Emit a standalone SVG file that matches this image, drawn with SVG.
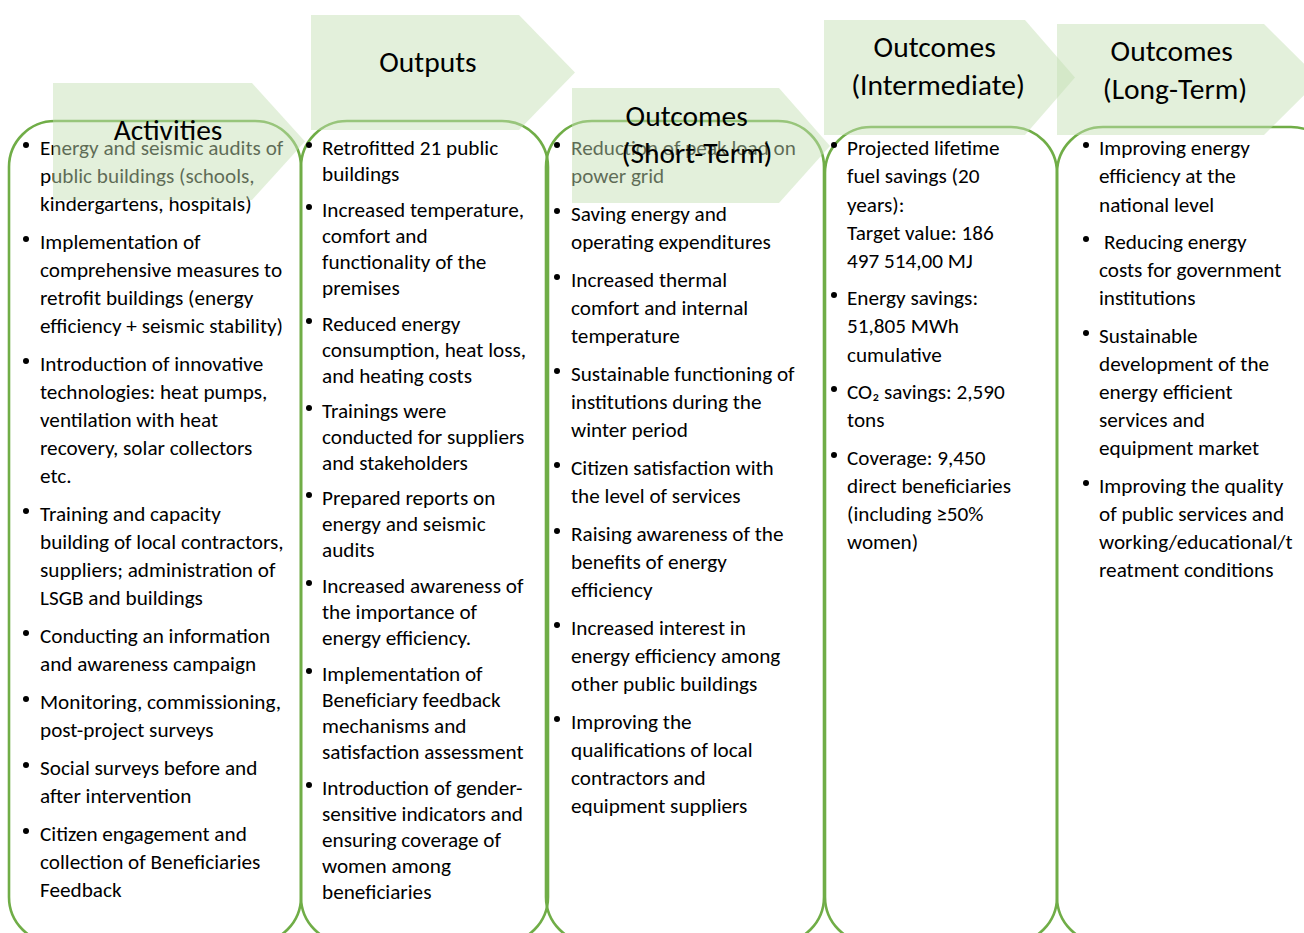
<svg xmlns="http://www.w3.org/2000/svg" width="1304" height="933" viewBox="0 0 1304 933">
  <style>
    .box { fill: none; stroke: #70ad47; stroke-width: 2.6; }
    .chev { fill: #c5e0b4; fill-opacity: 0.48; }
    .body { font-family: Carlito, Lato, "Liberation Sans", sans-serif; font-size: 21.2px; fill: #000; }
    .title { font-family: Carlito, Lato, "Liberation Sans", sans-serif; font-size: 29.5px; fill: #000; text-anchor: middle; }
    .dot circle { fill: #000; r: 3px; }
  </style>
  <rect width="1304" height="933" fill="#fff"/>

  <!-- Activities -->
  <g id="activities">
    <rect class="box" x="9" y="121" width="292" height="822" rx="46" ry="46"/>
    <g class="dot">
      <circle cx="26" cy="145" r="3"/><circle cx="26" cy="239" r="3"/><circle cx="26" cy="361" r="3"/>
      <circle cx="26" cy="511" r="3"/><circle cx="26" cy="633" r="3"/><circle cx="26" cy="699" r="3"/>
      <circle cx="26" cy="765" r="3"/><circle cx="26" cy="831" r="3"/>
    </g>
    <text class="body">
      <tspan x="40" y="155">Energy and seismic audits of</tspan>
      <tspan x="40" y="183">public buildings (schools,</tspan>
      <tspan x="40" y="211">kindergartens, hospitals)</tspan>
      <tspan x="40" y="249">Implementation of</tspan>
      <tspan x="40" y="277">comprehensive measures to</tspan>
      <tspan x="40" y="305">retrofit buildings  (energy</tspan>
      <tspan x="40" y="333">efficiency + seismic stability)</tspan>
      <tspan x="40" y="371">Introduction of innovative</tspan>
      <tspan x="40" y="399">technologies: heat pumps,</tspan>
      <tspan x="40" y="427">ventilation with heat</tspan>
      <tspan x="40" y="455">recovery, solar collectors</tspan>
      <tspan x="40" y="483">etc.</tspan>
      <tspan x="40" y="521">Training and capacity</tspan>
      <tspan x="40" y="549">building of local contractors,</tspan>
      <tspan x="40" y="577">suppliers; administration of</tspan>
      <tspan x="40" y="605">LSGB and buildings</tspan>
      <tspan x="40" y="643">Conducting an information</tspan>
      <tspan x="40" y="671">and awareness campaign</tspan>
      <tspan x="40" y="709">Monitoring, commissioning,</tspan>
      <tspan x="40" y="737">post-project surveys</tspan>
      <tspan x="40" y="775">Social surveys before and</tspan>
      <tspan x="40" y="803">after intervention</tspan>
      <tspan x="40" y="841">Citizen engagement and</tspan>
      <tspan x="40" y="869">collection of Beneficiaries</tspan>
      <tspan x="40" y="897">Feedback</tspan>
    </text>
    <polygon class="chev" points="53,83 252,83 305,141.5 252,200 53,200"/>
    <text class="title" x="168" y="140">Activities</text>
  </g>

  <!-- Outputs -->
  <g id="outputs">
    <rect class="box" x="301" y="121" width="247" height="822" rx="46" ry="46"/>
    <g class="dot">
      <circle cx="309" cy="145" r="3"/><circle cx="309" cy="207" r="3"/><circle cx="309" cy="321" r="3"/>
      <circle cx="309" cy="408" r="3"/><circle cx="309" cy="495" r="3"/><circle cx="309" cy="583" r="3"/>
      <circle cx="309" cy="671" r="3"/><circle cx="309" cy="785" r="3"/>
    </g>
    <text class="body">
      <tspan x="322" y="155">Retrofitted 21 public</tspan>
      <tspan x="322" y="181">buildings</tspan>
      <tspan x="322" y="217">Increased temperature,</tspan>
      <tspan x="322" y="243">comfort and</tspan>
      <tspan x="322" y="269">functionality of the</tspan>
      <tspan x="322" y="295">premises</tspan>
      <tspan x="322" y="331">Reduced energy</tspan>
      <tspan x="322" y="357">consumption, heat loss,</tspan>
      <tspan x="322" y="383">and heating costs</tspan>
      <tspan x="322" y="418">Trainings were</tspan>
      <tspan x="322" y="444">conducted for suppliers</tspan>
      <tspan x="322" y="470">and stakeholders</tspan>
      <tspan x="322" y="505">Prepared reports on</tspan>
      <tspan x="322" y="531">energy and seismic</tspan>
      <tspan x="322" y="557">audits</tspan>
      <tspan x="322" y="593">Increased awareness of</tspan>
      <tspan x="322" y="619">the importance of</tspan>
      <tspan x="322" y="645">energy efficiency.</tspan>
      <tspan x="322" y="681">Implementation of</tspan>
      <tspan x="322" y="707">Beneficiary feedback</tspan>
      <tspan x="322" y="733">mechanisms and</tspan>
      <tspan x="322" y="759">satisfaction assessment</tspan>
      <tspan x="322" y="795">Introduction of gender-</tspan>
      <tspan x="322" y="821">sensitive indicators and</tspan>
      <tspan x="322" y="847">ensuring coverage of</tspan>
      <tspan x="322" y="873">women among</tspan>
      <tspan x="322" y="899">beneficiaries</tspan>
    </text>
    <polygon class="chev" points="311,15 519,15 575,72.5 519,130 311,130"/>
    <text class="title" x="428" y="72">Outputs</text>
  </g>

  <!-- Outcomes (Short-Term) -->
  <g id="outcomes-short">
    <rect class="box" x="546" y="121" width="278" height="822" rx="46" ry="46"/>
    <g class="dot">
      <circle cx="557" cy="145" r="3"/><circle cx="557" cy="211" r="3"/><circle cx="557" cy="277" r="3"/>
      <circle cx="557" cy="371" r="3"/><circle cx="557" cy="465" r="3"/><circle cx="557" cy="531" r="3"/>
      <circle cx="557" cy="625" r="3"/><circle cx="557" cy="719" r="3"/>
    </g>
    <text class="body">
      <tspan x="571" y="155">Reduction of peak load on</tspan>
      <tspan x="571" y="183">power grid</tspan>
      <tspan x="571" y="221">Saving energy and</tspan>
      <tspan x="571" y="249">operating expenditures</tspan>
      <tspan x="571" y="287">Increased thermal</tspan>
      <tspan x="571" y="315">comfort and internal</tspan>
      <tspan x="571" y="343">temperature</tspan>
      <tspan x="571" y="381">Sustainable functioning of</tspan>
      <tspan x="571" y="409">institutions during the</tspan>
      <tspan x="571" y="437">winter period</tspan>
      <tspan x="571" y="475">Citizen satisfaction with</tspan>
      <tspan x="571" y="503">the level of services</tspan>
      <tspan x="571" y="541">Raising awareness of the</tspan>
      <tspan x="571" y="569">benefits of energy</tspan>
      <tspan x="571" y="597">efficiency</tspan>
      <tspan x="571" y="635">Increased interest in</tspan>
      <tspan x="571" y="663">energy efficiency among</tspan>
      <tspan x="571" y="691">other public buildings</tspan>
      <tspan x="571" y="729">Improving the</tspan>
      <tspan x="571" y="757">qualifications of local</tspan>
      <tspan x="571" y="785">contractors and</tspan>
      <tspan x="571" y="813">equipment suppliers</tspan>
    </text>
    <polygon class="chev" points="572,88 779,88 830,146 779,203 572,203"/>
    <text class="title">
      <tspan x="690" y="126">Outcomes</tspan>
      <tspan x="697" y="163">(Short-Term)</tspan>
    </text>
  </g>

  <!-- Outcomes (Intermediate) -->
  <g id="outcomes-intermediate">
    <rect class="box" x="825" y="127" width="232" height="816" rx="46" ry="46"/>
    <g class="dot">
      <circle cx="834" cy="145" r="3"/><circle cx="834" cy="295" r="3"/>
      <circle cx="834" cy="389" r="3"/><circle cx="834" cy="455" r="3"/>
    </g>
    <text class="body">
      <tspan x="847" y="155">Projected lifetime</tspan>
      <tspan x="847" y="183">fuel savings (20</tspan>
      <tspan x="847" y="212">years):</tspan>
      <tspan x="847" y="240">Target value: 186</tspan>
      <tspan x="847" y="268">497 514,00 MJ</tspan>
      <tspan x="847" y="305">Energy savings:</tspan>
      <tspan x="847" y="333">51,805 MWh</tspan>
      <tspan x="847" y="362">cumulative</tspan>
      <tspan x="847" y="399">CO₂ savings: 2,590</tspan>
      <tspan x="847" y="427">tons</tspan>
      <tspan x="847" y="465">Coverage: 9,450</tspan>
      <tspan x="847" y="493">direct beneficiaries</tspan>
      <tspan x="847" y="521">(including ≥50%</tspan>
      <tspan x="847" y="549">women)</tspan>
    </text>
    <polygon class="chev" points="824,20 1025,20 1075,77.5 1025,135 824,135"/>
    <text class="title">
      <tspan x="938" y="57">Outcomes</tspan>
      <tspan x="938" y="95">(Intermediate)</tspan>
    </text>
  </g>

  <!-- Outcomes (Long-Term) -->
  <g id="outcomes-long">
    <rect class="box" x="1057" y="127" width="280" height="816" rx="46" ry="46"/>
    <g class="dot">
      <circle cx="1086" cy="145" r="3"/><circle cx="1086" cy="239" r="3"/>
      <circle cx="1086" cy="333" r="3"/><circle cx="1086" cy="483" r="3"/>
    </g>
    <text class="body">
      <tspan x="1099" y="155">Improving energy</tspan>
      <tspan x="1099" y="183">efficiency at the</tspan>
      <tspan x="1099" y="212">national level</tspan>
      <tspan x="1104" y="249">Reducing energy</tspan>
      <tspan x="1099" y="277">costs for government</tspan>
      <tspan x="1099" y="305">institutions</tspan>
      <tspan x="1099" y="343">Sustainable</tspan>
      <tspan x="1099" y="371">development of the</tspan>
      <tspan x="1099" y="399">energy efficient</tspan>
      <tspan x="1099" y="427">services and</tspan>
      <tspan x="1099" y="455">equipment market</tspan>
      <tspan x="1099" y="493">Improving the quality</tspan>
      <tspan x="1099" y="521">of public services and</tspan>
      <tspan x="1099" y="549">working/educational/t</tspan>
      <tspan x="1099" y="577">reatment conditions</tspan>
    </text>
    <polygon class="chev" points="1057,24 1264,24 1320,79.5 1264,135 1057,135"/>
    <text class="title">
      <tspan x="1175" y="61">Outcomes</tspan>
      <tspan x="1175" y="99">(Long-Term)</tspan>
    </text>
  </g>
</svg>
